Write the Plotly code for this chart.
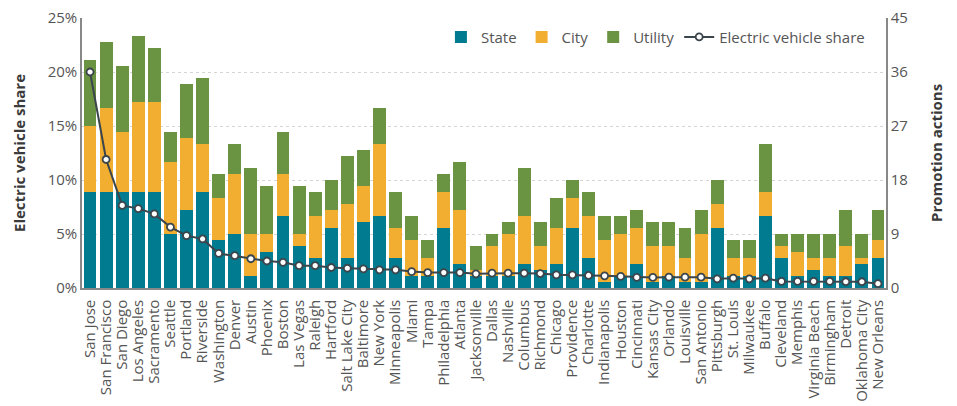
import plotly.graph_objects as go

cities = ["San Jose", "San Francisco", "San Diego", "Los Angeles", "Sacramento", "Seattle",
          "Portland", "Riverside", "Washington", "Denver", "Austin", "Phoenix", "Boston",
          "Las Vegas", "Raleigh", "Hartford", "Salt Lake City", "Baltimore", "New York",
          "Minneapolis", "Miami", "Tampa", "Philadelphia", "Atlanta", "Jacksonville", "Dallas",
          "Nashville", "Columbus", "Richmond", "Chicago", "Providence", "Charlotte",
          "Indianapolis", "Houston", "Cincinnati", "Kansas City", "Orlando", "Louisville",
          "San Antonio", "Pittsburgh", "St. Louis", "Milwaukee", "Buffalo", "Cleveland",
          "Memphis", "Virginia Beach", "Birmingham", "Detroit", "Oklahoma City", "New Orleans"]

state = [16, 16, 16, 16, 16, 9, 13, 16, 8, 9, 2, 6, 12, 7, 5, 10, 5, 11, 12, 5, 2, 2, 10, 4, 2,
         2, 2, 4, 3, 4, 10, 5, 1, 2, 4, 1, 2, 1, 1, 10, 2, 2, 12, 5, 2, 3, 2, 2, 4, 5]
city = [11, 14, 10, 15, 15, 12, 12, 8, 7, 10, 7, 3, 7, 2, 7, 3, 9, 6, 12, 5, 6, 3, 6, 9, 1,
        5, 7, 8, 4, 6, 5, 7, 7, 7, 6, 6, 5, 4, 8, 4, 3, 3, 4, 2, 4, 2, 3, 5, 1, 3]
utility = [11, 11, 11, 11, 9, 5, 9, 11, 4, 5, 11, 8, 7, 8, 4, 5, 8, 6, 6, 6, 4, 3, 3, 8, 4,
           2, 2, 8, 4, 5, 3, 4, 4, 3, 3, 4, 4, 5, 4, 4, 3, 3, 8, 2, 3, 4, 4, 6, 4, 5]
ev_share = [0.200, 0.119, 0.0765, 0.0735, 0.0686, 0.0564, 0.0485, 0.0454, 0.032, 0.0299,
            0.0271, 0.025, 0.0238, 0.0207, 0.0207, 0.019, 0.0183, 0.0177, 0.0168, 0.0168,
            0.0152, 0.0143, 0.0143, 0.0143, 0.0131, 0.0137, 0.0137, 0.0137, 0.0134, 0.0122,
            0.0122, 0.0116, 0.0113, 0.0107, 0.0098, 0.0098, 0.0100, 0.0100, 0.0100, 0.0085,
            0.0091, 0.0085, 0.0091, 0.0061, 0.0061, 0.0061, 0.0061, 0.0058, 0.0058, 0.0040]

left_ticks = [0, 0.05, 0.10, 0.15, 0.20, 0.25]
right_ticks = [0, 9, 18, 27, 36, 45]

FONT = "Open Sans"
GRAY = "#555555"
TITLE = "#3A3A3A"

fig = go.Figure()
for name, vals, col in [("State", state, "#007B8F"), ("City", city, "#F2AE30"),
                        ("Utility", utility, "#6A9441")]:
    fig.add_trace(go.Bar(x=cities, y=vals, name=name, marker_color=col,
                         marker_line_width=0, yaxis="y"))

fig.add_trace(go.Scatter(x=cities, y=ev_share, name="Electric vehicle share", yaxis="y2",
                         mode="lines+markers", cliponaxis=False,
                         line=dict(color="#3B454C", width=2),
                         marker=dict(size=7, color="white",
                                     line=dict(color="#3B454C", width=1.8))))

# page body adds an 8px offset, so the figure is 8px smaller than the window
W, H = 949, 398
fig.update_layout(
    width=W, height=H,
    margin=dict(l=74, r=71, t=10, b=118),
    barmode="stack", bargap=0.2,
    plot_bgcolor="white", paper_bgcolor="white",
    font=dict(family=FONT, color=GRAY, size=14),
    xaxis=dict(tickangle=-90, tickmode="array", tickvals=cities, ticktext=cities,
               range=[-0.5, len(cities) - 0.5],
               tickfont=dict(size=15, color=GRAY), showline=True,
               linecolor="#888888", linewidth=1.5, ticks="", showgrid=False,
               automargin=False, ticklabelstandoff=4),
    yaxis=dict(side="right", range=[0, 45], tickvals=right_ticks,
               tickfont=dict(size=15, color=GRAY), showline=True, linecolor="#888888",
               linewidth=1.5, showgrid=True, gridcolor="#D5D5D5", griddash="dot",
               gridwidth=1, zeroline=False, automargin=False, ticklabeloverflow="allow"),
    yaxis2=dict(side="left", overlaying="y", range=[0, 0.25], tickvals=left_ticks,
                tickformat=".0%", tickfont=dict(size=15, color=GRAY), showline=True,
                linecolor="#888888", linewidth=1.5, showgrid=False, zeroline=False,
                automargin=False, ticklabeloverflow="allow"),
    legend=dict(orientation="h", x=0.98, xanchor="right", y=0.99, yanchor="top",
                font=dict(size=15, color=GRAY), bgcolor="rgba(0,0,0,0)",
                traceorder="normal", itemwidth=30),
    annotations=[
        dict(text="<b>Electric vehicle share</b>", xref="paper", yref="paper",
             x=-0.0784, y=0.5, xanchor="center", yanchor="middle", textangle=-90,
             showarrow=False, font=dict(size=15, color=TITLE, family=FONT)),
        dict(text="<b>Promotion actions</b>", xref="paper", yref="paper",
             x=1.0622, y=0.5, xanchor="center", yanchor="middle", textangle=-90,
             showarrow=False, font=dict(size=15, color=TITLE, family=FONT)),
    ],
)

fig.write_html("out.html")
